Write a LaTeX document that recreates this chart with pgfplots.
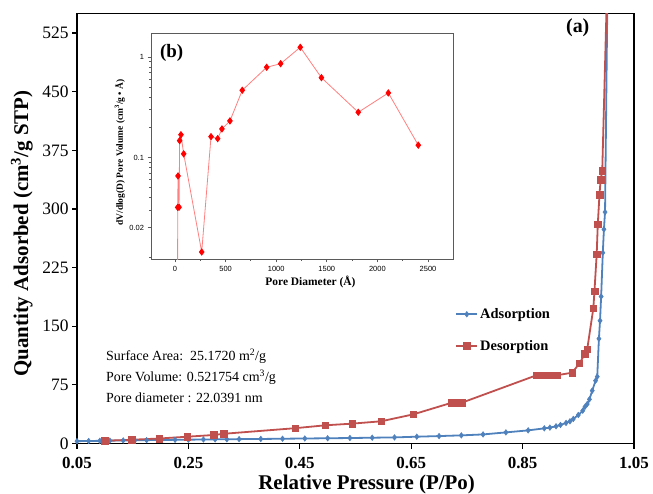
\documentclass[border=0pt]{standalone}
\usepackage{fontspec}
\setmainfont{Liberation Serif}
\newfontfamily\arialf{Liberation Sans}
\usepackage{pgfplots}
\pgfplotsset{compat=1.18}
\definecolor{adsblue}{HTML}{4F81BD}
\definecolor{desred}{HTML}{C0504D}
\definecolor{insetred}{HTML}{FF0000}
\definecolor{insetline}{HTML}{FF8080}
\definecolor{framegray}{HTML}{5A5A5A}
\begin{document}
\begin{tikzpicture}
\useasboundingbox (0,0) rectangle (653bp,494bp);
\begin{axis}[
  at={(77bp,50.5bp)}, anchor=south west, scale only axis,
  width=557bp, height=430bp,
  xmin=0.05, xmax=1.05, ymin=0, ymax=550,
  axis line style={line width=1.6bp},
  tick pos=left, tick align=outside, major tick length=5bp,
  every tick/.style={black, line width=1.2bp},
  xtick={0.05,0.25,0.45,0.65,0.85,1.05},
  xticklabels={0.05,0.25,0.45,0.65,0.85,1.05},
  xticklabel style={font=\fontsize{17}{17}\selectfont\bfseries, yshift=-5bp},
  ytick={0,75,150,225,300,375,450,525},
  yticklabels={0,75,150,225,300,375,450,525},
  yticklabel style={font=\fontsize{17.5}{17.5}\selectfont},
  xlabel={Relative Pressure (P/Po)},
  ylabel={Quantity Adsorbed (cm\textsuperscript{3}/g STP)},
  xlabel style={font=\fontsize{21}{21}\selectfont\bfseries, at={(axis description cs:0.52,-0.096)}, anchor=center},
  ylabel style={font=\fontsize{21}{21}\selectfont\bfseries, at={(axis description cs:-0.099,0.488)}, anchor=center},
  legend style={at={(rel axis cs:0.679,0.319)}, anchor=north west, draw=none, fill=none,
    font=\fontsize{14.5}{14.5}\selectfont\bfseries, row sep=16bp, inner sep=0pt},
  legend cell align=left,
  legend image code/.code={\draw[mark repeat=2,mark phase=2] plot coordinates {(0bp,0bp) (10.5bp,0bp) (21bp,0bp)};},
]
\addplot[color=adsblue, line width=1.8bp, mark=diamond*, mark size=2.8bp, mark options={fill=adsblue, line width=0.5bp}] coordinates {
(0.05,3.0)(0.071,3.2)(0.091,3.4)(0.109,3.6)(0.133,3.9)(0.154,4.1)(0.175,4.3)(0.199,4.5)
(0.226,4.7)(0.250,4.9)(0.277,5.1)(0.298,5.3)(0.319,5.4)(0.341,5.6)(0.380,5.8)(0.419,6.1)
(0.459,6.4)(0.500,6.7)(0.540,7.0)(0.580,7.4)(0.620,7.8)(0.660,8.7)(0.700,9.5)(0.740,10.4)
(0.779,11.6)(0.820,14.2)(0.860,16.8)(0.889,19.4)(0.899,20.3)(0.910,22)(0.918,23.7)
(0.928,26.3)(0.935,28.4)(0.941,31.4)(0.950,36.5)(0.958,42)(0.962,47)(0.966,50.5)
(0.970,56.5)(0.975,67.6)(0.981,80.4)(0.984,85.5)(0.987,134)(0.989,157)(0.991,188)
(0.994,244)(0.996,274)(0.998,296)(1.003,620)
};
\addlegendentry{Adsorption}
\addplot[color=desred, line width=1.8bp, mark=square*, mark size=3.3bp, mark options={fill=desred, line width=0.5bp}] coordinates {
(0.100,3.5)(0.148,4.8)(0.198,6.4)(0.248,8.7)(0.296,10.9)(0.313,12.4)(0.442,19.6)
(0.496,23.3)(0.544,25.4)(0.596,28.4)(0.654,37.3)(0.723,52.2)(0.732,52.2)(0.741,52.2)
(0.875,87.3)(0.887,87.3)(0.899,87.3)(0.912,87.3)(0.939,90.6)(0.952,102.5)(0.962,114.6)
(0.966,120.5)(0.977,173)(0.979,194.8)(0.983,242)(0.985,280.6)(0.988,318)(0.990,337)
(0.993,349)(1.003,620)
};
\addlegendentry{Desorption}
\node[anchor=north west, align=left, inner sep=0pt, font=\fontsize{14}{21}\selectfont] at (axis cs:0.102,121)
  {Surface Area:\ \ 25.1720 m\textsuperscript{2}/g\\Pore Volume: 0.521754 cm\textsuperscript{3}/g\\Pore diameter : 22.0391 nm};
\node[font=\fontsize{20}{20}\selectfont\bfseries] at (axis cs:0.949,531.4) {(a)};
\end{axis}
\begin{axis}[
  at={(151bp,235bp)}, anchor=south west, scale only axis,
  width=302bp, height=225bp,
  ymode=log, xmin=-237, xmax=2747, ymin=0.00975, ymax=1.706,
  axis background/.style={fill=white},
  axis line style={framegray, line width=1bp},
  tick pos=left, tick align=outside, major tick length=3.5bp, minor tick length=2bp,
  every tick/.style={framegray, line width=0.8bp},
  xtick={0,500,1000,1500,2000,2500},
  xticklabels={0,500,1000,1500,2000,2500},
  minor xtick={250,750,1250,1750,2250},
  ytick={0.02,0.1,1},
  yticklabels={0.02,0.1,1},
  minor ytick={0.01,0.03,0.04,0.05,0.06,0.07,0.08,0.09,0.2,0.3,0.4,0.5,0.6,0.7,0.8,0.9},
  tick label style={font=\arialf\fontsize{7.5}{7.5}\selectfont},
  xlabel={Pore Diameter (Å)},
  ylabel={dV/dlog(D) Pore Volume (cm\textsuperscript{3}/g • Å)},
  xlabel style={font=\fontsize{11.5}{11.5}\selectfont\bfseries, at={(axis description cs:0.528,-0.101)}, anchor=center},
  ylabel style={font=\fontsize{9.5}{9.5}\selectfont\bfseries, at={(axis description cs:-0.103,0.473)}, anchor=center},
]
\addplot[color=insetline, line width=0.8bp, mark=diamond*, mark size=3.1bp, mark options={fill=insetred, draw=insetred}] coordinates {
(25,0.004)(27,0.0319)(30,0.0656)(40,0.032)(46,0.1475)(59,0.169)(86,0.109)(264,0.01145)
(356,0.1617)(422,0.1545)(464,0.193)(543,0.232)(665,0.469)(906,0.795)(1044,0.863)
(1238,1.258)(1447,0.626)(1811,0.283)(2108,0.441)(2404,0.133)
};
\node[font=\fontsize{19}{19}\selectfont\bfseries] at (axis cs:-33,1.1) {(b)};
\end{axis}
\end{tikzpicture}
\end{document}
